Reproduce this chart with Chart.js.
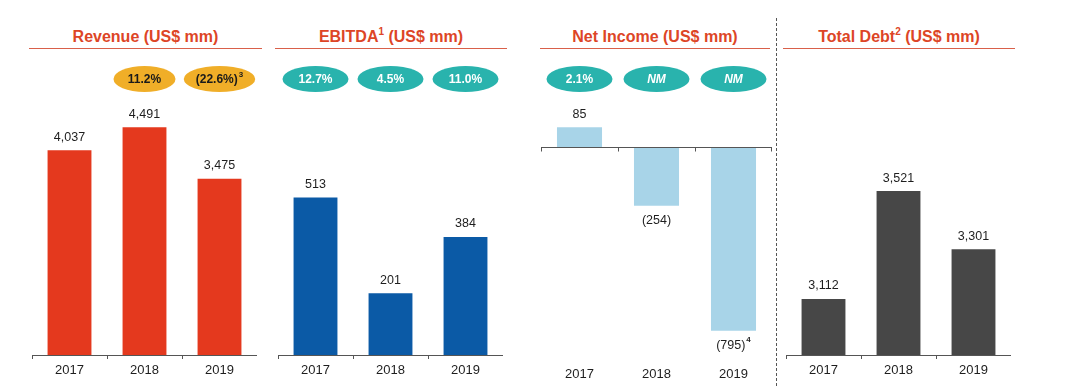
<!DOCTYPE html>
<html>
<head>
<meta charset="utf-8">
<script src="https://cdn.jsdelivr.net/npm/chart.js@4.4.1/dist/chart.umd.min.js"></script>
<style>
  html, body { margin:0; padding:0; background:#fff; }
  body { width:1080px; height:390px; position:relative; overflow:hidden; font-family:"Liberation Sans", Arial, sans-serif; }
  .title { position:absolute; top:27px; height:21px; line-height:20px; text-align:center; color:#DD4526; font-weight:bold; font-size:16px; border-bottom:1.5px solid #D9604A; }
  .title sup { font-size:10px; line-height:0; position:relative; top:-1px; }
  .box { position:absolute; top:0; height:390px; }
  #sep { position:absolute; left:776px; top:18px; height:368px; border-left:1.5px dashed #555; }
</style>
</head>
<body>
<div class="title" style="left:29px;width:233px;">Revenue (US$ mm)</div>
<div class="title" style="left:275px;width:232px;">EBITDA<sup>1</sup> (US$ mm)</div>
<div class="title" style="left:540px;width:230px;">Net Income (US$ mm)</div>
<div class="title" style="left:783px;width:232px;">Total Debt<sup>2</sup> (US$ mm)</div>
<div id="sep"></div>

<div class="box" style="left:32px;width:225px;"><canvas id="c1" width="225" height="390"></canvas></div>
<div class="box" style="left:278px;width:225px;"><canvas id="c2" width="225" height="390"></canvas></div>
<div class="box" style="left:541px;width:231px;"><canvas id="c3" width="231" height="390"></canvas></div>
<div class="box" style="left:786px;width:225px;"><canvas id="c4" width="225" height="390"></canvas></div>

<script>
// ---- Data ----
const years = ["2017", "2018", "2019"];
const revenue = [4037, 4491, 3475];
const ebitda = [513, 201, 384];
const netIncome = [85, -254, -795];
const totalDebt = [3112, 3521, 3301];

const revenuePills = ["", "11.2%", "(22.6%)"];
const revenuePillNotes = ["", "", "3"];
const ebitdaPills = ["12.7%", "4.5%", "11.0%"];
const netIncomePills = ["2.1%", "NM", "NM"];
const netIncomeValueNotes = ["", "", "4"];

// ---- Helpers ----
const FONT = '"Liberation Sans", Arial, sans-serif';
function fmt(v) {
  const s = Math.abs(v).toLocaleString('en-US');
  return v < 0 ? '(' + s + ')' : s;
}

const valueLabels = {
  id: 'valueLabels',
  afterDatasetsDraw(chart, args, opts) {
    const ctx = chart.ctx;
    const meta = chart.getDatasetMeta(0);
    const data = chart.data.datasets[0].data;
    const notes = opts.notes || [];
    ctx.save();
    ctx.fillStyle = '#1e1e1e';
    ctx.textBaseline = 'middle';
    meta.data.forEach((bar, i) => {
      const v = data[i];
      const txt = fmt(v);
      const y = v < 0 ? bar.y + 15 : bar.y - 13;
      ctx.font = '12.5px ' + FONT;
      const note = notes[i] || '';
      if (note) {
        const w = ctx.measureText(txt).width;
        ctx.font = 'bold 8px ' + FONT;
        const nw = ctx.measureText(note).width;
        const start = bar.x - (w + nw + 1) / 2;
        ctx.textAlign = 'left';
        ctx.font = '12.5px ' + FONT;
        ctx.fillText(txt, start, y);
        ctx.font = 'bold 8px ' + FONT;
        ctx.fillText(note, start + w + 1, y - 6);
      } else {
        ctx.textAlign = 'center';
        ctx.fillText(txt, bar.x, y);
      }
    });
    ctx.restore();
  }
};

const pills = {
  id: 'pills',
  afterDraw(chart, args, opts) {
    const texts = opts.texts || [];
    const notes = opts.notes || [];
    const ctx = chart.ctx;
    const xs = chart.scales.x;
    ctx.save();
    texts.forEach((t, i) => {
      if (!t) return;
      const cx = xs.getPixelForValue(i);
      const cy = opts.y;
      ctx.font = (opts.italicIf && opts.italicIf(t) ? 'italic ' : '') + 'bold 12px ' + FONT;
      const w = ctx.measureText(t).width;
      const note = notes[i] || '';
      let nw = 0;
      if (note) { ctx.font = 'bold 8px ' + FONT; nw = ctx.measureText(note).width + 1; }
      const rx = Math.max(opts.rx, (w + nw) / 2 + 12);
      ctx.beginPath();
      ctx.ellipse(cx, cy, rx, opts.ry, 0, 0, Math.PI * 2);
      ctx.fillStyle = opts.fill;
      ctx.fill();
      ctx.fillStyle = opts.color;
      ctx.textBaseline = 'middle';
      ctx.textAlign = 'left';
      const start = cx - (w + nw) / 2;
      ctx.font = (opts.italicIf && opts.italicIf(t) ? 'italic ' : '') + 'bold 12px ' + FONT;
      ctx.fillText(t, start, cy + 0.5);
      if (note) {
        ctx.font = 'bold 8px ' + FONT;
        ctx.fillText(note, start + w + 1, cy - 4);
      }
    });
    ctx.restore();
  }
};

const zeroAxis = {
  id: 'zeroAxis',
  afterDatasetsDraw(chart, args, opts) {
    if (!opts.enabled) return;
    const ctx = chart.ctx;
    const xs = chart.scales.x, ys = chart.scales.y;
    const y0 = Math.round(ys.getPixelForValue(0)) + 0.5;
    ctx.save();
    ctx.strokeStyle = '#555';
    ctx.lineWidth = 1;
    ctx.beginPath();
    ctx.moveTo(xs.left, y0);
    ctx.lineTo(xs.right, y0);
    const n = chart.data.labels.length;
    const step = (xs.right - xs.left) / n;
    for (let k = 0; k <= n; k++) {
      const x = Math.round(xs.left + k * step) + 0.5;
      ctx.moveTo(Math.min(x, xs.right - 0.5), y0);
      ctx.lineTo(Math.min(x, xs.right - 0.5), y0 + 4);
    }
    ctx.stroke();
    ctx.restore();
  }
};

function makeChart(id, values, color, yMin, yMax, extra) {
  const hasAxis = extra.axisLine !== false;
  return new Chart(document.getElementById(id), {
    type: 'bar',
    data: {
      labels: years,
      datasets: [{
        data: values,
        backgroundColor: color,
        borderWidth: 0,
        barPercentage: 0.585,
        categoryPercentage: 1,
        clip: 0
      }]
    },
    options: {
      responsive: false,
      animation: false,
      devicePixelRatio: 1,
      layout: { padding: { top: 100, bottom: 5, left: 0, right: 0 } },
      plugins: {
        legend: { display: false },
        tooltip: { enabled: false },
        title: { display: false },
        valueLabels: { notes: extra.valueNotes || [] },
        pills: extra.pills || { texts: [] },
        zeroAxis: { enabled: !hasAxis }
      },
      scales: {
        x: {
          afterFit: (s) => { s.height = 30; },
          border: { display: hasAxis, color: '#555', width: 1 },
          grid: { display: hasAxis, drawOnChartArea: false, drawTicks: true, tickLength: 4, color: '#555', offset: true },
          ticks: { color: '#1e1e1e', font: { family: FONT, size: 13 }, padding: hasAxis ? 4 : 8, maxRotation: 0 }
        },
        y: { display: false, min: yMin, max: yMax }
      }
    },
    plugins: [valueLabels, pills, zeroAxis]
  });
}

const tealPill = (texts) => ({ texts: texts, notes: [], y: 79, rx: 33, ry: 13, fill: '#29B3AD', color: '#ffffff', italicIf: (t) => t === 'NM' });

makeChart('c1', revenue, '#E4391E', 0, 5030, {
  pills: { texts: revenuePills, notes: revenuePillNotes, y: 79, rx: 31, ry: 13, fill: '#F0AE28', color: '#1a1a1a' }
});
makeChart('c2', ebitda, '#0B5AA6', 0, 830, { pills: tealPill(ebitdaPills) });
makeChart('c3', netIncome, '#A8D4E8', -900, 203, { pills: tealPill(netIncomePills), axisLine: false, valueNotes: netIncomeValueNotes });
makeChart('c4', totalDebt, '#474747', 2900, 3866, {});
</script>
</body>
</html>
